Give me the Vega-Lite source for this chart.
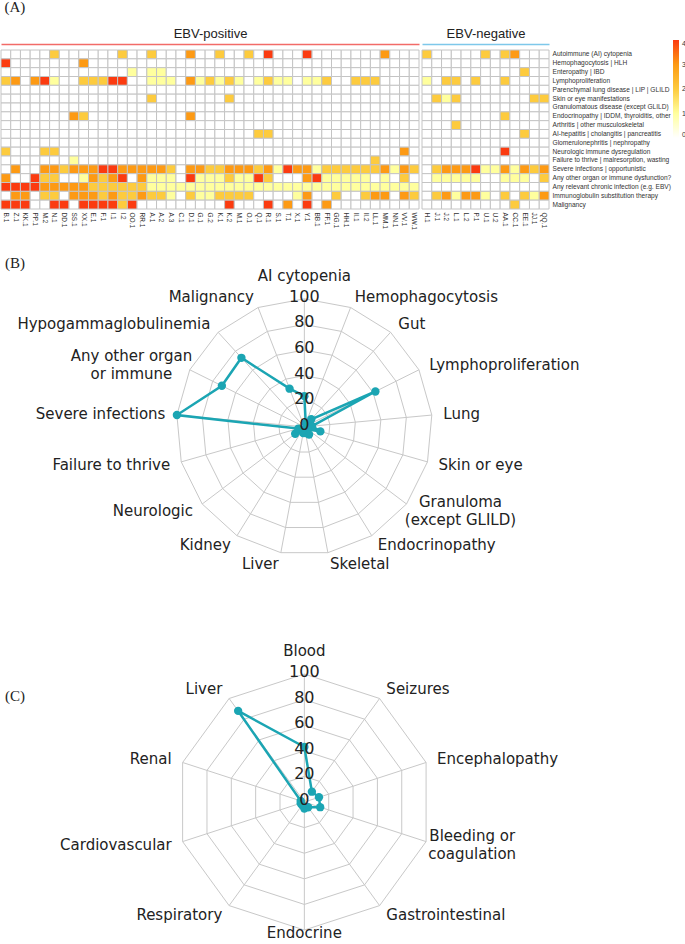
{
"$schema": "https://vega.github.io/schema/vega-lite/v6.json",
"padding": 0,
"spacing": 0,
"config": {"view": {"stroke": null}, "font": "Liberation Sans", "axis": {"grid": false}},
"datasets": {
"feats": [{"r":1,"f":"Autoimmune (AI) cytopenia"},{"r":2,"f":"Hemophagocytosis | HLH"},{"r":3,"f":"Enteropathy | IBD"},{"r":4,"f":"Lymphoproliferation"},{"r":5,"f":"Parenchymal lung disease | LIP | GLILD"},{"r":6,"f":"Skin or eye manifestations"},{"r":7,"f":"Granulomatous disease  (except GLILD)"},{"r":8,"f":"Endocrinopathy | IDDM, thyroiditis, other"},{"r":9,"f":"Arthritis | other musculoskeletal"},{"r":10,"f":"AI-hepatitis | cholangitis | pancreatitis"},{"r":11,"f":"Glomerulonephritis | nephropathy"},{"r":12,"f":"Neurologic immune dysregulation"},{"r":13,"f":"Failure to thrive | malresorption, wasting"},{"r":14,"f":"Severe infections | opportunistic"},{"r":15,"f":"Any other organ or immune dysfunction?"},{"r":16,"f":"Any relevant chronic infection (e.g. EBV)"},{"r":17,"f":"Immunoglobulin substitution therapy"},{"r":18,"f":"Malignancy"}],
"pos": [
{"p":"B.1","r":1,"v":0},{"p":"B.1","r":2,"v":4},{"p":"B.1","r":3,"v":0},{"p":"B.1","r":4,"v":2},{"p":"B.1","r":5,"v":0},{"p":"B.1","r":6,"v":0},{"p":"B.1","r":7,"v":0},{"p":"B.1","r":8,"v":0},{"p":"B.1","r":9,"v":0},{"p":"B.1","r":10,"v":0},{"p":"B.1","r":11,"v":0},{"p":"B.1","r":12,"v":2},{"p":"B.1","r":13,"v":0},{"p":"B.1","r":14,"v":0},{"p":"B.1","r":15,"v":3},{"p":"B.1","r":16,"v":4},{"p":"B.1","r":17,"v":0},{"p":"B.1","r":18,"v":4},
{"p":"Z.1","r":1,"v":0},{"p":"Z.1","r":2,"v":0},{"p":"Z.1","r":3,"v":0},{"p":"Z.1","r":4,"v":3},{"p":"Z.1","r":5,"v":0},{"p":"Z.1","r":6,"v":0},{"p":"Z.1","r":7,"v":0},{"p":"Z.1","r":8,"v":0},{"p":"Z.1","r":9,"v":0},{"p":"Z.1","r":10,"v":0},{"p":"Z.1","r":11,"v":0},{"p":"Z.1","r":12,"v":0},{"p":"Z.1","r":13,"v":0},{"p":"Z.1","r":14,"v":3},{"p":"Z.1","r":15,"v":0},{"p":"Z.1","r":16,"v":4},{"p":"Z.1","r":17,"v":3},{"p":"Z.1","r":18,"v":4},
{"p":"KK.1","r":1,"v":0},{"p":"KK.1","r":2,"v":0},{"p":"KK.1","r":3,"v":0},{"p":"KK.1","r":4,"v":0},{"p":"KK.1","r":5,"v":0},{"p":"KK.1","r":6,"v":0},{"p":"KK.1","r":7,"v":0},{"p":"KK.1","r":8,"v":0},{"p":"KK.1","r":9,"v":0},{"p":"KK.1","r":10,"v":0},{"p":"KK.1","r":11,"v":0},{"p":"KK.1","r":12,"v":0},{"p":"KK.1","r":13,"v":0},{"p":"KK.1","r":14,"v":0},{"p":"KK.1","r":15,"v":0},{"p":"KK.1","r":16,"v":4},{"p":"KK.1","r":17,"v":3},{"p":"KK.1","r":18,"v":4},
{"p":"PP.1","r":1,"v":0},{"p":"PP.1","r":2,"v":0},{"p":"PP.1","r":3,"v":0},{"p":"PP.1","r":4,"v":3},{"p":"PP.1","r":5,"v":0},{"p":"PP.1","r":6,"v":0},{"p":"PP.1","r":7,"v":0},{"p":"PP.1","r":8,"v":0},{"p":"PP.1","r":9,"v":0},{"p":"PP.1","r":10,"v":0},{"p":"PP.1","r":11,"v":0},{"p":"PP.1","r":12,"v":0},{"p":"PP.1","r":13,"v":0},{"p":"PP.1","r":14,"v":0},{"p":"PP.1","r":15,"v":4},{"p":"PP.1","r":16,"v":4},{"p":"PP.1","r":17,"v":0},{"p":"PP.1","r":18,"v":0},
{"p":"M.2","r":1,"v":0},{"p":"M.2","r":2,"v":0},{"p":"M.2","r":3,"v":0},{"p":"M.2","r":4,"v":4},{"p":"M.2","r":5,"v":0},{"p":"M.2","r":6,"v":0},{"p":"M.2","r":7,"v":0},{"p":"M.2","r":8,"v":0},{"p":"M.2","r":9,"v":0},{"p":"M.2","r":10,"v":0},{"p":"M.2","r":11,"v":0},{"p":"M.2","r":12,"v":2},{"p":"M.2","r":13,"v":0},{"p":"M.2","r":14,"v":3},{"p":"M.2","r":15,"v":2},{"p":"M.2","r":16,"v":3},{"p":"M.2","r":17,"v":2},{"p":"M.2","r":18,"v":0},
{"p":"N.1","r":1,"v":2},{"p":"N.1","r":2,"v":0},{"p":"N.1","r":3,"v":0},{"p":"N.1","r":4,"v":1},{"p":"N.1","r":5,"v":0},{"p":"N.1","r":6,"v":0},{"p":"N.1","r":7,"v":0},{"p":"N.1","r":8,"v":0},{"p":"N.1","r":9,"v":0},{"p":"N.1","r":10,"v":0},{"p":"N.1","r":11,"v":0},{"p":"N.1","r":12,"v":2},{"p":"N.1","r":13,"v":0},{"p":"N.1","r":14,"v":3},{"p":"N.1","r":15,"v":2},{"p":"N.1","r":16,"v":3},{"p":"N.1","r":17,"v":2},{"p":"N.1","r":18,"v":4},
{"p":"DD.1","r":1,"v":0},{"p":"DD.1","r":2,"v":0},{"p":"DD.1","r":3,"v":0},{"p":"DD.1","r":4,"v":0},{"p":"DD.1","r":5,"v":0},{"p":"DD.1","r":6,"v":0},{"p":"DD.1","r":7,"v":0},{"p":"DD.1","r":8,"v":0},{"p":"DD.1","r":9,"v":0},{"p":"DD.1","r":10,"v":0},{"p":"DD.1","r":11,"v":0},{"p":"DD.1","r":12,"v":0},{"p":"DD.1","r":13,"v":0},{"p":"DD.1","r":14,"v":2},{"p":"DD.1","r":15,"v":0},{"p":"DD.1","r":16,"v":3},{"p":"DD.1","r":17,"v":0},{"p":"DD.1","r":18,"v":4},
{"p":"SS.1","r":1,"v":0},{"p":"SS.1","r":2,"v":0},{"p":"SS.1","r":3,"v":0},{"p":"SS.1","r":4,"v":0},{"p":"SS.1","r":5,"v":0},{"p":"SS.1","r":6,"v":0},{"p":"SS.1","r":7,"v":0},{"p":"SS.1","r":8,"v":3},{"p":"SS.1","r":9,"v":0},{"p":"SS.1","r":10,"v":0},{"p":"SS.1","r":11,"v":0},{"p":"SS.1","r":12,"v":0},{"p":"SS.1","r":13,"v":1},{"p":"SS.1","r":14,"v":3},{"p":"SS.1","r":15,"v":0},{"p":"SS.1","r":16,"v":3},{"p":"SS.1","r":17,"v":3},{"p":"SS.1","r":18,"v":0},
{"p":"XX.1","r":1,"v":0},{"p":"XX.1","r":2,"v":3},{"p":"XX.1","r":3,"v":0},{"p":"XX.1","r":4,"v":2},{"p":"XX.1","r":5,"v":0},{"p":"XX.1","r":6,"v":0},{"p":"XX.1","r":7,"v":0},{"p":"XX.1","r":8,"v":2},{"p":"XX.1","r":9,"v":0},{"p":"XX.1","r":10,"v":0},{"p":"XX.1","r":11,"v":0},{"p":"XX.1","r":12,"v":0},{"p":"XX.1","r":13,"v":0},{"p":"XX.1","r":14,"v":3},{"p":"XX.1","r":15,"v":1},{"p":"XX.1","r":16,"v":3},{"p":"XX.1","r":17,"v":3},{"p":"XX.1","r":18,"v":4},
{"p":"E.1","r":1,"v":0},{"p":"E.1","r":2,"v":0},{"p":"E.1","r":3,"v":0},{"p":"E.1","r":4,"v":2},{"p":"E.1","r":5,"v":0},{"p":"E.1","r":6,"v":0},{"p":"E.1","r":7,"v":0},{"p":"E.1","r":8,"v":0},{"p":"E.1","r":9,"v":0},{"p":"E.1","r":10,"v":0},{"p":"E.1","r":11,"v":0},{"p":"E.1","r":12,"v":0},{"p":"E.1","r":13,"v":0},{"p":"E.1","r":14,"v":3},{"p":"E.1","r":15,"v":3},{"p":"E.1","r":16,"v":2},{"p":"E.1","r":17,"v":3},{"p":"E.1","r":18,"v":4},
{"p":"F.1","r":1,"v":0},{"p":"F.1","r":2,"v":0},{"p":"F.1","r":3,"v":0},{"p":"F.1","r":4,"v":2},{"p":"F.1","r":5,"v":0},{"p":"F.1","r":6,"v":0},{"p":"F.1","r":7,"v":0},{"p":"F.1","r":8,"v":0},{"p":"F.1","r":9,"v":0},{"p":"F.1","r":10,"v":0},{"p":"F.1","r":11,"v":0},{"p":"F.1","r":12,"v":0},{"p":"F.1","r":13,"v":0},{"p":"F.1","r":14,"v":4},{"p":"F.1","r":15,"v":2},{"p":"F.1","r":16,"v":2},{"p":"F.1","r":17,"v":2},{"p":"F.1","r":18,"v":4},
{"p":"I.1","r":1,"v":0},{"p":"I.1","r":2,"v":0},{"p":"I.1","r":3,"v":0},{"p":"I.1","r":4,"v":4},{"p":"I.1","r":5,"v":0},{"p":"I.1","r":6,"v":0},{"p":"I.1","r":7,"v":0},{"p":"I.1","r":8,"v":0},{"p":"I.1","r":9,"v":0},{"p":"I.1","r":10,"v":0},{"p":"I.1","r":11,"v":0},{"p":"I.1","r":12,"v":0},{"p":"I.1","r":13,"v":0},{"p":"I.1","r":14,"v":4},{"p":"I.1","r":15,"v":3},{"p":"I.1","r":16,"v":2},{"p":"I.1","r":17,"v":3},{"p":"I.1","r":18,"v":4},
{"p":"I.2","r":1,"v":2},{"p":"I.2","r":2,"v":0},{"p":"I.2","r":3,"v":0},{"p":"I.2","r":4,"v":4},{"p":"I.2","r":5,"v":0},{"p":"I.2","r":6,"v":0},{"p":"I.2","r":7,"v":0},{"p":"I.2","r":8,"v":0},{"p":"I.2","r":9,"v":0},{"p":"I.2","r":10,"v":0},{"p":"I.2","r":11,"v":0},{"p":"I.2","r":12,"v":0},{"p":"I.2","r":13,"v":0},{"p":"I.2","r":14,"v":3},{"p":"I.2","r":15,"v":4},{"p":"I.2","r":16,"v":2},{"p":"I.2","r":17,"v":2},{"p":"I.2","r":18,"v":2},
{"p":"OO.1","r":1,"v":0},{"p":"OO.1","r":2,"v":0},{"p":"OO.1","r":3,"v":1},{"p":"OO.1","r":4,"v":0},{"p":"OO.1","r":5,"v":0},{"p":"OO.1","r":6,"v":0},{"p":"OO.1","r":7,"v":0},{"p":"OO.1","r":8,"v":0},{"p":"OO.1","r":9,"v":0},{"p":"OO.1","r":10,"v":0},{"p":"OO.1","r":11,"v":0},{"p":"OO.1","r":12,"v":0},{"p":"OO.1","r":13,"v":0},{"p":"OO.1","r":14,"v":3},{"p":"OO.1","r":15,"v":0},{"p":"OO.1","r":16,"v":2},{"p":"OO.1","r":17,"v":2},{"p":"OO.1","r":18,"v":4},
{"p":"RR.1","r":1,"v":0},{"p":"RR.1","r":2,"v":0},{"p":"RR.1","r":3,"v":0},{"p":"RR.1","r":4,"v":0},{"p":"RR.1","r":5,"v":0},{"p":"RR.1","r":6,"v":0},{"p":"RR.1","r":7,"v":0},{"p":"RR.1","r":8,"v":0},{"p":"RR.1","r":9,"v":0},{"p":"RR.1","r":10,"v":0},{"p":"RR.1","r":11,"v":0},{"p":"RR.1","r":12,"v":0},{"p":"RR.1","r":13,"v":0},{"p":"RR.1","r":14,"v":3},{"p":"RR.1","r":15,"v":3},{"p":"RR.1","r":16,"v":2},{"p":"RR.1","r":17,"v":3},{"p":"RR.1","r":18,"v":0},
{"p":"A.1","r":1,"v":2},{"p":"A.1","r":2,"v":0},{"p":"A.1","r":3,"v":1},{"p":"A.1","r":4,"v":1},{"p":"A.1","r":5,"v":0},{"p":"A.1","r":6,"v":2},{"p":"A.1","r":7,"v":0},{"p":"A.1","r":8,"v":0},{"p":"A.1","r":9,"v":0},{"p":"A.1","r":10,"v":0},{"p":"A.1","r":11,"v":0},{"p":"A.1","r":12,"v":0},{"p":"A.1","r":13,"v":0},{"p":"A.1","r":14,"v":3},{"p":"A.1","r":15,"v":1},{"p":"A.1","r":16,"v":1},{"p":"A.1","r":17,"v":2},{"p":"A.1","r":18,"v":0},
{"p":"A.2","r":1,"v":0},{"p":"A.2","r":2,"v":0},{"p":"A.2","r":3,"v":1},{"p":"A.2","r":4,"v":1},{"p":"A.2","r":5,"v":0},{"p":"A.2","r":6,"v":0},{"p":"A.2","r":7,"v":0},{"p":"A.2","r":8,"v":0},{"p":"A.2","r":9,"v":0},{"p":"A.2","r":10,"v":0},{"p":"A.2","r":11,"v":0},{"p":"A.2","r":12,"v":0},{"p":"A.2","r":13,"v":0},{"p":"A.2","r":14,"v":3},{"p":"A.2","r":15,"v":1},{"p":"A.2","r":16,"v":1},{"p":"A.2","r":17,"v":2},{"p":"A.2","r":18,"v":0},
{"p":"A.3","r":1,"v":0},{"p":"A.3","r":2,"v":0},{"p":"A.3","r":3,"v":0},{"p":"A.3","r":4,"v":1},{"p":"A.3","r":5,"v":0},{"p":"A.3","r":6,"v":0},{"p":"A.3","r":7,"v":0},{"p":"A.3","r":8,"v":0},{"p":"A.3","r":9,"v":0},{"p":"A.3","r":10,"v":0},{"p":"A.3","r":11,"v":0},{"p":"A.3","r":12,"v":0},{"p":"A.3","r":13,"v":0},{"p":"A.3","r":14,"v":2},{"p":"A.3","r":15,"v":1},{"p":"A.3","r":16,"v":1},{"p":"A.3","r":17,"v":1},{"p":"A.3","r":18,"v":0},
{"p":"C.1","r":1,"v":0},{"p":"C.1","r":2,"v":0},{"p":"C.1","r":3,"v":0},{"p":"C.1","r":4,"v":0},{"p":"C.1","r":5,"v":0},{"p":"C.1","r":6,"v":0},{"p":"C.1","r":7,"v":0},{"p":"C.1","r":8,"v":0},{"p":"C.1","r":9,"v":0},{"p":"C.1","r":10,"v":0},{"p":"C.1","r":11,"v":0},{"p":"C.1","r":12,"v":0},{"p":"C.1","r":13,"v":0},{"p":"C.1","r":14,"v":0},{"p":"C.1","r":15,"v":0},{"p":"C.1","r":16,"v":1},{"p":"C.1","r":17,"v":0},{"p":"C.1","r":18,"v":0},
{"p":"D.1","r":1,"v":3},{"p":"D.1","r":2,"v":0},{"p":"D.1","r":3,"v":0},{"p":"D.1","r":4,"v":3},{"p":"D.1","r":5,"v":0},{"p":"D.1","r":6,"v":0},{"p":"D.1","r":7,"v":0},{"p":"D.1","r":8,"v":3},{"p":"D.1","r":9,"v":0},{"p":"D.1","r":10,"v":0},{"p":"D.1","r":11,"v":0},{"p":"D.1","r":12,"v":0},{"p":"D.1","r":13,"v":0},{"p":"D.1","r":14,"v":3},{"p":"D.1","r":15,"v":4},{"p":"D.1","r":16,"v":1},{"p":"D.1","r":17,"v":2},{"p":"D.1","r":18,"v":0},
{"p":"G.1","r":1,"v":0},{"p":"G.1","r":2,"v":0},{"p":"G.1","r":3,"v":0},{"p":"G.1","r":4,"v":1},{"p":"G.1","r":5,"v":0},{"p":"G.1","r":6,"v":0},{"p":"G.1","r":7,"v":0},{"p":"G.1","r":8,"v":0},{"p":"G.1","r":9,"v":0},{"p":"G.1","r":10,"v":0},{"p":"G.1","r":11,"v":0},{"p":"G.1","r":12,"v":0},{"p":"G.1","r":13,"v":0},{"p":"G.1","r":14,"v":3},{"p":"G.1","r":15,"v":1},{"p":"G.1","r":16,"v":1},{"p":"G.1","r":17,"v":1},{"p":"G.1","r":18,"v":0},
{"p":"G.2","r":1,"v":0},{"p":"G.2","r":2,"v":0},{"p":"G.2","r":3,"v":0},{"p":"G.2","r":4,"v":2},{"p":"G.2","r":5,"v":0},{"p":"G.2","r":6,"v":0},{"p":"G.2","r":7,"v":0},{"p":"G.2","r":8,"v":0},{"p":"G.2","r":9,"v":0},{"p":"G.2","r":10,"v":0},{"p":"G.2","r":11,"v":0},{"p":"G.2","r":12,"v":0},{"p":"G.2","r":13,"v":0},{"p":"G.2","r":14,"v":2},{"p":"G.2","r":15,"v":1},{"p":"G.2","r":16,"v":1},{"p":"G.2","r":17,"v":1},{"p":"G.2","r":18,"v":0},
{"p":"K.1","r":1,"v":2},{"p":"K.1","r":2,"v":0},{"p":"K.1","r":3,"v":0},{"p":"K.1","r":4,"v":1},{"p":"K.1","r":5,"v":0},{"p":"K.1","r":6,"v":0},{"p":"K.1","r":7,"v":0},{"p":"K.1","r":8,"v":0},{"p":"K.1","r":9,"v":0},{"p":"K.1","r":10,"v":0},{"p":"K.1","r":11,"v":0},{"p":"K.1","r":12,"v":0},{"p":"K.1","r":13,"v":0},{"p":"K.1","r":14,"v":2},{"p":"K.1","r":15,"v":1},{"p":"K.1","r":16,"v":1},{"p":"K.1","r":17,"v":2},{"p":"K.1","r":18,"v":0},
{"p":"K.2","r":1,"v":0},{"p":"K.2","r":2,"v":0},{"p":"K.2","r":3,"v":0},{"p":"K.2","r":4,"v":2},{"p":"K.2","r":5,"v":0},{"p":"K.2","r":6,"v":2},{"p":"K.2","r":7,"v":0},{"p":"K.2","r":8,"v":0},{"p":"K.2","r":9,"v":0},{"p":"K.2","r":10,"v":0},{"p":"K.2","r":11,"v":0},{"p":"K.2","r":12,"v":0},{"p":"K.2","r":13,"v":0},{"p":"K.2","r":14,"v":3},{"p":"K.2","r":15,"v":2},{"p":"K.2","r":16,"v":1},{"p":"K.2","r":17,"v":2},{"p":"K.2","r":18,"v":4},
{"p":"M.1","r":1,"v":0},{"p":"M.1","r":2,"v":0},{"p":"M.1","r":3,"v":0},{"p":"M.1","r":4,"v":1},{"p":"M.1","r":5,"v":0},{"p":"M.1","r":6,"v":0},{"p":"M.1","r":7,"v":0},{"p":"M.1","r":8,"v":0},{"p":"M.1","r":9,"v":0},{"p":"M.1","r":10,"v":0},{"p":"M.1","r":11,"v":0},{"p":"M.1","r":12,"v":0},{"p":"M.1","r":13,"v":0},{"p":"M.1","r":14,"v":3},{"p":"M.1","r":15,"v":1},{"p":"M.1","r":16,"v":1},{"p":"M.1","r":17,"v":2},{"p":"M.1","r":18,"v":0},
{"p":"O.1","r":1,"v":2},{"p":"O.1","r":2,"v":0},{"p":"O.1","r":3,"v":0},{"p":"O.1","r":4,"v":0},{"p":"O.1","r":5,"v":0},{"p":"O.1","r":6,"v":0},{"p":"O.1","r":7,"v":0},{"p":"O.1","r":8,"v":0},{"p":"O.1","r":9,"v":0},{"p":"O.1","r":10,"v":0},{"p":"O.1","r":11,"v":0},{"p":"O.1","r":12,"v":0},{"p":"O.1","r":13,"v":0},{"p":"O.1","r":14,"v":3},{"p":"O.1","r":15,"v":1},{"p":"O.1","r":16,"v":1},{"p":"O.1","r":17,"v":2},{"p":"O.1","r":18,"v":0},
{"p":"Q.1","r":1,"v":0},{"p":"Q.1","r":2,"v":0},{"p":"Q.1","r":3,"v":0},{"p":"Q.1","r":4,"v":1},{"p":"Q.1","r":5,"v":0},{"p":"Q.1","r":6,"v":0},{"p":"Q.1","r":7,"v":0},{"p":"Q.1","r":8,"v":0},{"p":"Q.1","r":9,"v":0},{"p":"Q.1","r":10,"v":2},{"p":"Q.1","r":11,"v":0},{"p":"Q.1","r":12,"v":0},{"p":"Q.1","r":13,"v":0},{"p":"Q.1","r":14,"v":2},{"p":"Q.1","r":15,"v":4},{"p":"Q.1","r":16,"v":1},{"p":"Q.1","r":17,"v":0},{"p":"Q.1","r":18,"v":0},
{"p":"R.1","r":1,"v":4},{"p":"R.1","r":2,"v":0},{"p":"R.1","r":3,"v":0},{"p":"R.1","r":4,"v":2},{"p":"R.1","r":5,"v":0},{"p":"R.1","r":6,"v":0},{"p":"R.1","r":7,"v":0},{"p":"R.1","r":8,"v":0},{"p":"R.1","r":9,"v":0},{"p":"R.1","r":10,"v":2},{"p":"R.1","r":11,"v":0},{"p":"R.1","r":12,"v":0},{"p":"R.1","r":13,"v":0},{"p":"R.1","r":14,"v":3},{"p":"R.1","r":15,"v":2},{"p":"R.1","r":16,"v":1},{"p":"R.1","r":17,"v":0},{"p":"R.1","r":18,"v":4},
{"p":"S.1","r":1,"v":0},{"p":"S.1","r":2,"v":0},{"p":"S.1","r":3,"v":0},{"p":"S.1","r":4,"v":1},{"p":"S.1","r":5,"v":0},{"p":"S.1","r":6,"v":0},{"p":"S.1","r":7,"v":0},{"p":"S.1","r":8,"v":0},{"p":"S.1","r":9,"v":0},{"p":"S.1","r":10,"v":0},{"p":"S.1","r":11,"v":0},{"p":"S.1","r":12,"v":0},{"p":"S.1","r":13,"v":0},{"p":"S.1","r":14,"v":1},{"p":"S.1","r":15,"v":0},{"p":"S.1","r":16,"v":1},{"p":"S.1","r":17,"v":0},{"p":"S.1","r":18,"v":0},
{"p":"T.1","r":1,"v":0},{"p":"T.1","r":2,"v":0},{"p":"T.1","r":3,"v":0},{"p":"T.1","r":4,"v":1},{"p":"T.1","r":5,"v":0},{"p":"T.1","r":6,"v":0},{"p":"T.1","r":7,"v":0},{"p":"T.1","r":8,"v":0},{"p":"T.1","r":9,"v":0},{"p":"T.1","r":10,"v":0},{"p":"T.1","r":11,"v":0},{"p":"T.1","r":12,"v":0},{"p":"T.1","r":13,"v":0},{"p":"T.1","r":14,"v":4},{"p":"T.1","r":15,"v":0},{"p":"T.1","r":16,"v":1},{"p":"T.1","r":17,"v":0},{"p":"T.1","r":18,"v":3},
{"p":"X.1","r":1,"v":0},{"p":"X.1","r":2,"v":0},{"p":"X.1","r":3,"v":0},{"p":"X.1","r":4,"v":0},{"p":"X.1","r":5,"v":0},{"p":"X.1","r":6,"v":0},{"p":"X.1","r":7,"v":0},{"p":"X.1","r":8,"v":0},{"p":"X.1","r":9,"v":0},{"p":"X.1","r":10,"v":0},{"p":"X.1","r":11,"v":0},{"p":"X.1","r":12,"v":0},{"p":"X.1","r":13,"v":0},{"p":"X.1","r":14,"v":3},{"p":"X.1","r":15,"v":0},{"p":"X.1","r":16,"v":1},{"p":"X.1","r":17,"v":1},{"p":"X.1","r":18,"v":0},
{"p":"Y.1","r":1,"v":4},{"p":"Y.1","r":2,"v":0},{"p":"Y.1","r":3,"v":0},{"p":"Y.1","r":4,"v":1},{"p":"Y.1","r":5,"v":0},{"p":"Y.1","r":6,"v":0},{"p":"Y.1","r":7,"v":0},{"p":"Y.1","r":8,"v":0},{"p":"Y.1","r":9,"v":0},{"p":"Y.1","r":10,"v":0},{"p":"Y.1","r":11,"v":0},{"p":"Y.1","r":12,"v":0},{"p":"Y.1","r":13,"v":0},{"p":"Y.1","r":14,"v":3},{"p":"Y.1","r":15,"v":3},{"p":"Y.1","r":16,"v":1},{"p":"Y.1","r":17,"v":3},{"p":"Y.1","r":18,"v":4},
{"p":"BB.1","r":1,"v":0},{"p":"BB.1","r":2,"v":0},{"p":"BB.1","r":3,"v":0},{"p":"BB.1","r":4,"v":1},{"p":"BB.1","r":5,"v":0},{"p":"BB.1","r":6,"v":0},{"p":"BB.1","r":7,"v":0},{"p":"BB.1","r":8,"v":0},{"p":"BB.1","r":9,"v":0},{"p":"BB.1","r":10,"v":0},{"p":"BB.1","r":11,"v":0},{"p":"BB.1","r":12,"v":0},{"p":"BB.1","r":13,"v":0},{"p":"BB.1","r":14,"v":1},{"p":"BB.1","r":15,"v":4},{"p":"BB.1","r":16,"v":1},{"p":"BB.1","r":17,"v":0},{"p":"BB.1","r":18,"v":0},
{"p":"FF.1","r":1,"v":0},{"p":"FF.1","r":2,"v":0},{"p":"FF.1","r":3,"v":0},{"p":"FF.1","r":4,"v":2},{"p":"FF.1","r":5,"v":0},{"p":"FF.1","r":6,"v":0},{"p":"FF.1","r":7,"v":0},{"p":"FF.1","r":8,"v":0},{"p":"FF.1","r":9,"v":0},{"p":"FF.1","r":10,"v":0},{"p":"FF.1","r":11,"v":0},{"p":"FF.1","r":12,"v":0},{"p":"FF.1","r":13,"v":0},{"p":"FF.1","r":14,"v":2},{"p":"FF.1","r":15,"v":1},{"p":"FF.1","r":16,"v":1},{"p":"FF.1","r":17,"v":0},{"p":"FF.1","r":18,"v":3},
{"p":"GG.1","r":1,"v":0},{"p":"GG.1","r":2,"v":0},{"p":"GG.1","r":3,"v":0},{"p":"GG.1","r":4,"v":0},{"p":"GG.1","r":5,"v":0},{"p":"GG.1","r":6,"v":0},{"p":"GG.1","r":7,"v":0},{"p":"GG.1","r":8,"v":0},{"p":"GG.1","r":9,"v":0},{"p":"GG.1","r":10,"v":0},{"p":"GG.1","r":11,"v":0},{"p":"GG.1","r":12,"v":0},{"p":"GG.1","r":13,"v":0},{"p":"GG.1","r":14,"v":2},{"p":"GG.1","r":15,"v":1},{"p":"GG.1","r":16,"v":1},{"p":"GG.1","r":17,"v":2},{"p":"GG.1","r":18,"v":0},
{"p":"HH.1","r":1,"v":0},{"p":"HH.1","r":2,"v":0},{"p":"HH.1","r":3,"v":0},{"p":"HH.1","r":4,"v":0},{"p":"HH.1","r":5,"v":0},{"p":"HH.1","r":6,"v":0},{"p":"HH.1","r":7,"v":0},{"p":"HH.1","r":8,"v":0},{"p":"HH.1","r":9,"v":0},{"p":"HH.1","r":10,"v":0},{"p":"HH.1","r":11,"v":0},{"p":"HH.1","r":12,"v":0},{"p":"HH.1","r":13,"v":0},{"p":"HH.1","r":14,"v":2},{"p":"HH.1","r":15,"v":1},{"p":"HH.1","r":16,"v":1},{"p":"HH.1","r":17,"v":0},{"p":"HH.1","r":18,"v":0},
{"p":"II.1","r":1,"v":0},{"p":"II.1","r":2,"v":0},{"p":"II.1","r":3,"v":0},{"p":"II.1","r":4,"v":2},{"p":"II.1","r":5,"v":0},{"p":"II.1","r":6,"v":0},{"p":"II.1","r":7,"v":0},{"p":"II.1","r":8,"v":0},{"p":"II.1","r":9,"v":0},{"p":"II.1","r":10,"v":0},{"p":"II.1","r":11,"v":0},{"p":"II.1","r":12,"v":0},{"p":"II.1","r":13,"v":0},{"p":"II.1","r":14,"v":2},{"p":"II.1","r":15,"v":1},{"p":"II.1","r":16,"v":1},{"p":"II.1","r":17,"v":0},{"p":"II.1","r":18,"v":0},
{"p":"II.2","r":1,"v":0},{"p":"II.2","r":2,"v":0},{"p":"II.2","r":3,"v":0},{"p":"II.2","r":4,"v":2},{"p":"II.2","r":5,"v":0},{"p":"II.2","r":6,"v":0},{"p":"II.2","r":7,"v":0},{"p":"II.2","r":8,"v":0},{"p":"II.2","r":9,"v":0},{"p":"II.2","r":10,"v":0},{"p":"II.2","r":11,"v":0},{"p":"II.2","r":12,"v":0},{"p":"II.2","r":13,"v":0},{"p":"II.2","r":14,"v":2},{"p":"II.2","r":15,"v":1},{"p":"II.2","r":16,"v":1},{"p":"II.2","r":17,"v":2},{"p":"II.2","r":18,"v":0},
{"p":"LL.1","r":1,"v":0},{"p":"LL.1","r":2,"v":0},{"p":"LL.1","r":3,"v":0},{"p":"LL.1","r":4,"v":2},{"p":"LL.1","r":5,"v":0},{"p":"LL.1","r":6,"v":0},{"p":"LL.1","r":7,"v":0},{"p":"LL.1","r":8,"v":0},{"p":"LL.1","r":9,"v":0},{"p":"LL.1","r":10,"v":0},{"p":"LL.1","r":11,"v":0},{"p":"LL.1","r":12,"v":0},{"p":"LL.1","r":13,"v":2},{"p":"LL.1","r":14,"v":2},{"p":"LL.1","r":15,"v":0},{"p":"LL.1","r":16,"v":1},{"p":"LL.1","r":17,"v":3},{"p":"LL.1","r":18,"v":0},
{"p":"MM.1","r":1,"v":3},{"p":"MM.1","r":2,"v":0},{"p":"MM.1","r":3,"v":0},{"p":"MM.1","r":4,"v":0},{"p":"MM.1","r":5,"v":0},{"p":"MM.1","r":6,"v":0},{"p":"MM.1","r":7,"v":0},{"p":"MM.1","r":8,"v":0},{"p":"MM.1","r":9,"v":0},{"p":"MM.1","r":10,"v":0},{"p":"MM.1","r":11,"v":0},{"p":"MM.1","r":12,"v":0},{"p":"MM.1","r":13,"v":0},{"p":"MM.1","r":14,"v":3},{"p":"MM.1","r":15,"v":1},{"p":"MM.1","r":16,"v":1},{"p":"MM.1","r":17,"v":3},{"p":"MM.1","r":18,"v":0},
{"p":"NN.1","r":1,"v":0},{"p":"NN.1","r":2,"v":0},{"p":"NN.1","r":3,"v":0},{"p":"NN.1","r":4,"v":0},{"p":"NN.1","r":5,"v":0},{"p":"NN.1","r":6,"v":0},{"p":"NN.1","r":7,"v":0},{"p":"NN.1","r":8,"v":0},{"p":"NN.1","r":9,"v":0},{"p":"NN.1","r":10,"v":0},{"p":"NN.1","r":11,"v":0},{"p":"NN.1","r":12,"v":0},{"p":"NN.1","r":13,"v":0},{"p":"NN.1","r":14,"v":1},{"p":"NN.1","r":15,"v":0},{"p":"NN.1","r":16,"v":1},{"p":"NN.1","r":17,"v":0},{"p":"NN.1","r":18,"v":0},
{"p":"VV.1","r":1,"v":0},{"p":"VV.1","r":2,"v":0},{"p":"VV.1","r":3,"v":0},{"p":"VV.1","r":4,"v":0},{"p":"VV.1","r":5,"v":0},{"p":"VV.1","r":6,"v":0},{"p":"VV.1","r":7,"v":0},{"p":"VV.1","r":8,"v":0},{"p":"VV.1","r":9,"v":0},{"p":"VV.1","r":10,"v":0},{"p":"VV.1","r":11,"v":0},{"p":"VV.1","r":12,"v":3},{"p":"VV.1","r":13,"v":0},{"p":"VV.1","r":14,"v":3},{"p":"VV.1","r":15,"v":2},{"p":"VV.1","r":16,"v":1},{"p":"VV.1","r":17,"v":3},{"p":"VV.1","r":18,"v":0},
{"p":"WW.1","r":1,"v":0},{"p":"WW.1","r":2,"v":0},{"p":"WW.1","r":3,"v":0},{"p":"WW.1","r":4,"v":0},{"p":"WW.1","r":5,"v":0},{"p":"WW.1","r":6,"v":0},{"p":"WW.1","r":7,"v":0},{"p":"WW.1","r":8,"v":0},{"p":"WW.1","r":9,"v":0},{"p":"WW.1","r":10,"v":0},{"p":"WW.1","r":11,"v":0},{"p":"WW.1","r":12,"v":0},{"p":"WW.1","r":13,"v":0},{"p":"WW.1","r":14,"v":2},{"p":"WW.1","r":15,"v":0},{"p":"WW.1","r":16,"v":1},{"p":"WW.1","r":17,"v":2},{"p":"WW.1","r":18,"v":0}
],
"neg": [
{"p":"H.1","r":1,"v":2},{"p":"H.1","r":2,"v":0},{"p":"H.1","r":3,"v":0},{"p":"H.1","r":4,"v":1},{"p":"H.1","r":5,"v":0},{"p":"H.1","r":6,"v":0},{"p":"H.1","r":7,"v":0},{"p":"H.1","r":8,"v":0},{"p":"H.1","r":9,"v":0},{"p":"H.1","r":10,"v":0},{"p":"H.1","r":11,"v":0},{"p":"H.1","r":12,"v":0},{"p":"H.1","r":13,"v":0},{"p":"H.1","r":14,"v":0},{"p":"H.1","r":15,"v":0},{"p":"H.1","r":16,"v":0},{"p":"H.1","r":17,"v":0},{"p":"H.1","r":18,"v":0},
{"p":"J.1","r":1,"v":0},{"p":"J.1","r":2,"v":0},{"p":"J.1","r":3,"v":0},{"p":"J.1","r":4,"v":0},{"p":"J.1","r":5,"v":0},{"p":"J.1","r":6,"v":2},{"p":"J.1","r":7,"v":0},{"p":"J.1","r":8,"v":0},{"p":"J.1","r":9,"v":0},{"p":"J.1","r":10,"v":0},{"p":"J.1","r":11,"v":0},{"p":"J.1","r":12,"v":0},{"p":"J.1","r":13,"v":0},{"p":"J.1","r":14,"v":2},{"p":"J.1","r":15,"v":1},{"p":"J.1","r":16,"v":0},{"p":"J.1","r":17,"v":2},{"p":"J.1","r":18,"v":0},
{"p":"J.2","r":1,"v":0},{"p":"J.2","r":2,"v":0},{"p":"J.2","r":3,"v":0},{"p":"J.2","r":4,"v":2},{"p":"J.2","r":5,"v":0},{"p":"J.2","r":6,"v":1},{"p":"J.2","r":7,"v":0},{"p":"J.2","r":8,"v":0},{"p":"J.2","r":9,"v":0},{"p":"J.2","r":10,"v":0},{"p":"J.2","r":11,"v":0},{"p":"J.2","r":12,"v":0},{"p":"J.2","r":13,"v":0},{"p":"J.2","r":14,"v":3},{"p":"J.2","r":15,"v":1},{"p":"J.2","r":16,"v":0},{"p":"J.2","r":17,"v":3},{"p":"J.2","r":18,"v":0},
{"p":"L.1","r":1,"v":0},{"p":"L.1","r":2,"v":0},{"p":"L.1","r":3,"v":0},{"p":"L.1","r":4,"v":2},{"p":"L.1","r":5,"v":0},{"p":"L.1","r":6,"v":2},{"p":"L.1","r":7,"v":0},{"p":"L.1","r":8,"v":0},{"p":"L.1","r":9,"v":2},{"p":"L.1","r":10,"v":0},{"p":"L.1","r":11,"v":0},{"p":"L.1","r":12,"v":0},{"p":"L.1","r":13,"v":0},{"p":"L.1","r":14,"v":3},{"p":"L.1","r":15,"v":1},{"p":"L.1","r":16,"v":0},{"p":"L.1","r":17,"v":1},{"p":"L.1","r":18,"v":0},
{"p":"L.2","r":1,"v":0},{"p":"L.2","r":2,"v":0},{"p":"L.2","r":3,"v":0},{"p":"L.2","r":4,"v":0},{"p":"L.2","r":5,"v":0},{"p":"L.2","r":6,"v":0},{"p":"L.2","r":7,"v":0},{"p":"L.2","r":8,"v":0},{"p":"L.2","r":9,"v":0},{"p":"L.2","r":10,"v":0},{"p":"L.2","r":11,"v":0},{"p":"L.2","r":12,"v":0},{"p":"L.2","r":13,"v":0},{"p":"L.2","r":14,"v":3},{"p":"L.2","r":15,"v":1},{"p":"L.2","r":16,"v":0},{"p":"L.2","r":17,"v":3},{"p":"L.2","r":18,"v":0},
{"p":"P.1","r":1,"v":0},{"p":"P.1","r":2,"v":0},{"p":"P.1","r":3,"v":0},{"p":"P.1","r":4,"v":2},{"p":"P.1","r":5,"v":0},{"p":"P.1","r":6,"v":0},{"p":"P.1","r":7,"v":0},{"p":"P.1","r":8,"v":0},{"p":"P.1","r":9,"v":0},{"p":"P.1","r":10,"v":0},{"p":"P.1","r":11,"v":0},{"p":"P.1","r":12,"v":0},{"p":"P.1","r":13,"v":0},{"p":"P.1","r":14,"v":4},{"p":"P.1","r":15,"v":1},{"p":"P.1","r":16,"v":0},{"p":"P.1","r":17,"v":3},{"p":"P.1","r":18,"v":0},
{"p":"U.1","r":1,"v":2},{"p":"U.1","r":2,"v":0},{"p":"U.1","r":3,"v":0},{"p":"U.1","r":4,"v":0},{"p":"U.1","r":5,"v":0},{"p":"U.1","r":6,"v":0},{"p":"U.1","r":7,"v":0},{"p":"U.1","r":8,"v":0},{"p":"U.1","r":9,"v":0},{"p":"U.1","r":10,"v":0},{"p":"U.1","r":11,"v":0},{"p":"U.1","r":12,"v":0},{"p":"U.1","r":13,"v":0},{"p":"U.1","r":14,"v":1},{"p":"U.1","r":15,"v":0},{"p":"U.1","r":16,"v":0},{"p":"U.1","r":17,"v":1},{"p":"U.1","r":18,"v":0},
{"p":"U.2","r":1,"v":0},{"p":"U.2","r":2,"v":0},{"p":"U.2","r":3,"v":0},{"p":"U.2","r":4,"v":0},{"p":"U.2","r":5,"v":0},{"p":"U.2","r":6,"v":0},{"p":"U.2","r":7,"v":0},{"p":"U.2","r":8,"v":0},{"p":"U.2","r":9,"v":0},{"p":"U.2","r":10,"v":0},{"p":"U.2","r":11,"v":0},{"p":"U.2","r":12,"v":0},{"p":"U.2","r":13,"v":0},{"p":"U.2","r":14,"v":1},{"p":"U.2","r":15,"v":0},{"p":"U.2","r":16,"v":0},{"p":"U.2","r":17,"v":0},{"p":"U.2","r":18,"v":0},
{"p":"AA.1","r":1,"v":2},{"p":"AA.1","r":2,"v":0},{"p":"AA.1","r":3,"v":0},{"p":"AA.1","r":4,"v":2},{"p":"AA.1","r":5,"v":0},{"p":"AA.1","r":6,"v":0},{"p":"AA.1","r":7,"v":0},{"p":"AA.1","r":8,"v":2},{"p":"AA.1","r":9,"v":0},{"p":"AA.1","r":10,"v":0},{"p":"AA.1","r":11,"v":0},{"p":"AA.1","r":12,"v":4},{"p":"AA.1","r":13,"v":0},{"p":"AA.1","r":14,"v":3},{"p":"AA.1","r":15,"v":1},{"p":"AA.1","r":16,"v":0},{"p":"AA.1","r":17,"v":2},{"p":"AA.1","r":18,"v":0},
{"p":"CC.1","r":1,"v":3},{"p":"CC.1","r":2,"v":0},{"p":"CC.1","r":3,"v":0},{"p":"CC.1","r":4,"v":0},{"p":"CC.1","r":5,"v":0},{"p":"CC.1","r":6,"v":0},{"p":"CC.1","r":7,"v":0},{"p":"CC.1","r":8,"v":0},{"p":"CC.1","r":9,"v":0},{"p":"CC.1","r":10,"v":0},{"p":"CC.1","r":11,"v":0},{"p":"CC.1","r":12,"v":0},{"p":"CC.1","r":13,"v":0},{"p":"CC.1","r":14,"v":1},{"p":"CC.1","r":15,"v":1},{"p":"CC.1","r":16,"v":0},{"p":"CC.1","r":17,"v":0},{"p":"CC.1","r":18,"v":2},
{"p":"EE.1","r":1,"v":0},{"p":"EE.1","r":2,"v":0},{"p":"EE.1","r":3,"v":2},{"p":"EE.1","r":4,"v":0},{"p":"EE.1","r":5,"v":0},{"p":"EE.1","r":6,"v":0},{"p":"EE.1","r":7,"v":0},{"p":"EE.1","r":8,"v":0},{"p":"EE.1","r":9,"v":0},{"p":"EE.1","r":10,"v":2},{"p":"EE.1","r":11,"v":0},{"p":"EE.1","r":12,"v":0},{"p":"EE.1","r":13,"v":0},{"p":"EE.1","r":14,"v":3},{"p":"EE.1","r":15,"v":1},{"p":"EE.1","r":16,"v":0},{"p":"EE.1","r":17,"v":2},{"p":"EE.1","r":18,"v":0},
{"p":"JJ.1","r":1,"v":0},{"p":"JJ.1","r":2,"v":0},{"p":"JJ.1","r":3,"v":0},{"p":"JJ.1","r":4,"v":0},{"p":"JJ.1","r":5,"v":0},{"p":"JJ.1","r":6,"v":2},{"p":"JJ.1","r":7,"v":0},{"p":"JJ.1","r":8,"v":0},{"p":"JJ.1","r":9,"v":0},{"p":"JJ.1","r":10,"v":0},{"p":"JJ.1","r":11,"v":0},{"p":"JJ.1","r":12,"v":0},{"p":"JJ.1","r":13,"v":0},{"p":"JJ.1","r":14,"v":2},{"p":"JJ.1","r":15,"v":0},{"p":"JJ.1","r":16,"v":0},{"p":"JJ.1","r":17,"v":1},{"p":"JJ.1","r":18,"v":0},
{"p":"QQ.1","r":1,"v":0},{"p":"QQ.1","r":2,"v":0},{"p":"QQ.1","r":3,"v":0},{"p":"QQ.1","r":4,"v":0},{"p":"QQ.1","r":5,"v":0},{"p":"QQ.1","r":6,"v":2},{"p":"QQ.1","r":7,"v":0},{"p":"QQ.1","r":8,"v":0},{"p":"QQ.1","r":9,"v":0},{"p":"QQ.1","r":10,"v":0},{"p":"QQ.1","r":11,"v":0},{"p":"QQ.1","r":12,"v":0},{"p":"QQ.1","r":13,"v":0},{"p":"QQ.1","r":14,"v":3},{"p":"QQ.1","r":15,"v":2},{"p":"QQ.1","r":16,"v":0},{"p":"QQ.1","r":17,"v":3},{"p":"QQ.1","r":18,"v":0}
],
"radarB": [{"lab":"AI cytopenia","i":0,"v":24},{"lab":"Hemophagocytosis","i":1,"v":3},{"lab":"Gut","i":2,"v":8},{"lab":"Lymphoproliferation","i":3,"v":62},{"lab":"Lung","i":4,"v":6},{"lab":"Skin or eye","i":5,"v":13},{"lab":"Granuloma\n(except GLILD)","i":6,"v":3},{"lab":"Endocrinopathy","i":7,"v":7},{"lab":"Skeletal","i":8,"v":5},{"lab":"Liver","i":9,"v":5},{"lab":"Kidney","i":10,"v":3},{"lab":"Neurologic","i":11,"v":9},{"lab":"Failure to thrive","i":12,"v":5},{"lab":"Severe infections","i":13,"v":100},{"lab":"Any other organ\nor immune","i":14,"v":72},{"lab":"Hypogammaglobulinemia","i":15,"v":73},{"lab":"Malignancy","i":16,"v":32}],
"radarC": [{"lab":"Blood","i":0,"v":43},{"lab":"Seizures","i":1,"v":10},{"lab":"Encephalopathy","i":2,"v":12},{"lab":"Bleeding or\ncoagulation","i":3,"v":13},{"lab":"Gastrointestinal","i":4,"v":5},{"lab":"Endocrine","i":5,"v":5},{"lab":"Respiratory","i":6,"v":3},{"lab":"Cardiovascular","i":7,"v":3},{"lab":"Renal","i":8,"v":3},{"lab":"Liver","i":9,"v":88}],
"rings": [{"r":0},{"r":20},{"r":40},{"r":60},{"r":80},{"r":100}],
"gridB": [{"i":0,"r":20},{"i":1,"r":20},{"i":2,"r":20},{"i":3,"r":20},{"i":4,"r":20},{"i":5,"r":20},{"i":6,"r":20},{"i":7,"r":20},{"i":8,"r":20},{"i":9,"r":20},{"i":10,"r":20},{"i":11,"r":20},{"i":12,"r":20},{"i":13,"r":20},{"i":14,"r":20},{"i":15,"r":20},{"i":16,"r":20},
{"i":0,"r":40},{"i":1,"r":40},{"i":2,"r":40},{"i":3,"r":40},{"i":4,"r":40},{"i":5,"r":40},{"i":6,"r":40},{"i":7,"r":40},{"i":8,"r":40},{"i":9,"r":40},{"i":10,"r":40},{"i":11,"r":40},{"i":12,"r":40},{"i":13,"r":40},{"i":14,"r":40},{"i":15,"r":40},{"i":16,"r":40},
{"i":0,"r":60},{"i":1,"r":60},{"i":2,"r":60},{"i":3,"r":60},{"i":4,"r":60},{"i":5,"r":60},{"i":6,"r":60},{"i":7,"r":60},{"i":8,"r":60},{"i":9,"r":60},{"i":10,"r":60},{"i":11,"r":60},{"i":12,"r":60},{"i":13,"r":60},{"i":14,"r":60},{"i":15,"r":60},{"i":16,"r":60},
{"i":0,"r":80},{"i":1,"r":80},{"i":2,"r":80},{"i":3,"r":80},{"i":4,"r":80},{"i":5,"r":80},{"i":6,"r":80},{"i":7,"r":80},{"i":8,"r":80},{"i":9,"r":80},{"i":10,"r":80},{"i":11,"r":80},{"i":12,"r":80},{"i":13,"r":80},{"i":14,"r":80},{"i":15,"r":80},{"i":16,"r":80},
{"i":0,"r":100},{"i":1,"r":100},{"i":2,"r":100},{"i":3,"r":100},{"i":4,"r":100},{"i":5,"r":100},{"i":6,"r":100},{"i":7,"r":100},{"i":8,"r":100},{"i":9,"r":100},{"i":10,"r":100},{"i":11,"r":100},{"i":12,"r":100},{"i":13,"r":100},{"i":14,"r":100},{"i":15,"r":100},{"i":16,"r":100}],
"gridC": [{"i":0,"r":20},{"i":1,"r":20},{"i":2,"r":20},{"i":3,"r":20},{"i":4,"r":20},{"i":5,"r":20},{"i":6,"r":20},{"i":7,"r":20},{"i":8,"r":20},{"i":9,"r":20},
{"i":0,"r":40},{"i":1,"r":40},{"i":2,"r":40},{"i":3,"r":40},{"i":4,"r":40},{"i":5,"r":40},{"i":6,"r":40},{"i":7,"r":40},{"i":8,"r":40},{"i":9,"r":40},
{"i":0,"r":60},{"i":1,"r":60},{"i":2,"r":60},{"i":3,"r":60},{"i":4,"r":60},{"i":5,"r":60},{"i":6,"r":60},{"i":7,"r":60},{"i":8,"r":60},{"i":9,"r":60},
{"i":0,"r":80},{"i":1,"r":80},{"i":2,"r":80},{"i":3,"r":80},{"i":4,"r":80},{"i":5,"r":80},{"i":6,"r":80},{"i":7,"r":80},{"i":8,"r":80},{"i":9,"r":80},
{"i":0,"r":100},{"i":1,"r":100},{"i":2,"r":100},{"i":3,"r":100},{"i":4,"r":100},{"i":5,"r":100},{"i":6,"r":100},{"i":7,"r":100},{"i":8,"r":100},{"i":9,"r":100}]
},
"vconcat": [
{
"hconcat": [
{
"width": 418, "height": 159,
"title": {"text": "(A)", "anchor": "start", "font": "Liberation Serif", "fontSize": 15, "fontWeight": "normal", "color": "#222", "offset": 12, "dx": 4},
"data": {"name": "pos"},
"transform": [{"lookup": "r", "from": {"data": {"name": "feats"}, "key": "r", "fields": ["f"]}}],
"encoding": {"y": {"field": "f", "type": "nominal", "sort": {"field": "r", "op": "min"}, "scale": {"paddingInner": 0, "paddingOuter": 0}, "axis": null}},
"layer": [
{"mark": {"type": "rect", "stroke": "#c4c4c4", "strokeWidth": 1, "opacity": 1},
 "encoding": {
  "x": {"field": "p", "type": "nominal", "sort": null, "scale": {"paddingInner": 0, "paddingOuter": 0}, "axis": {"orient": "bottom", "title": null, "ticks": false, "domain": false, "labelAngle": 90, "labelFontSize": 6.5, "labelColor": "#333", "labelPadding": 3}},
  "color": {"field": "v", "type": "quantitative", "scale": {"type": "linear", "domain": [0, 1, 2, 3, 4], "range": ["#ffffff", "#ffff9e", "#fdcb3e", "#fd9a14", "#fb3b10"], "interpolate": "rgb"},
   "legend": {"orient": "none", "legendX": 672, "legendY": -10, "direction": "vertical", "gradientLength": 98, "gradientThickness": 6, "gradientStrokeWidth": 0, "title": null, "values": [0, 1, 2, 3, 4], "labelFontSize": 7, "labelColor": "#333", "labelOffset": 3}}
 }},
{"mark": {"type": "rect", "opacity": 0},
 "encoding": {"x": {"field": "p", "type": "nominal", "sort": null, "axis": {"orient": "top", "labels": false, "ticks": false, "domain": true, "domainColor": "#f26b68", "domainWidth": 1.5, "offset": 6, "title": "EBV-positive", "titleFontSize": 13, "titleFontWeight": "normal", "titleColor": "#222", "titlePadding": 4}}}}
],
"resolve": {"axis": {"x": "independent"}}
},
{
"width": 127, "height": 159,
"data": {"name": "neg"},
"transform": [{"lookup": "r", "from": {"data": {"name": "feats"}, "key": "r", "fields": ["f"]}}],
"encoding": {"y": {"field": "f", "type": "nominal", "sort": {"field": "r", "op": "min"}, "scale": {"paddingInner": 0, "paddingOuter": 0}, "axis": {"orient": "right", "title": null, "ticks": false, "domain": false, "labelFontSize": 6.6, "labelColor": "#333", "labelPadding": 3, "labelLimit": 300}}},
"layer": [
{"mark": {"type": "rect", "stroke": "#c4c4c4", "strokeWidth": 1, "opacity": 1},
 "encoding": {
  "x": {"field": "p", "type": "nominal", "sort": null, "scale": {"paddingInner": 0, "paddingOuter": 0}, "axis": {"orient": "bottom", "title": null, "ticks": false, "domain": false, "labelAngle": 90, "labelFontSize": 6.5, "labelColor": "#333", "labelPadding": 3}},
  "color": {"field": "v", "type": "quantitative", "scale": {"type": "linear", "domain": [0, 1, 2, 3, 4], "range": ["#ffffff", "#ffff9e", "#fdcb3e", "#fd9a14", "#fb3b10"], "interpolate": "rgb"},
   "legend": {"orient": "none", "legendX": 672, "legendY": -10, "direction": "vertical", "gradientLength": 98, "gradientThickness": 6, "gradientStrokeWidth": 0, "title": null, "values": [0, 1, 2, 3, 4], "labelFontSize": 7, "labelColor": "#333", "labelOffset": 3}}
 }},
{"mark": {"type": "rect", "opacity": 0},
 "encoding": {"x": {"field": "p", "type": "nominal", "sort": null, "axis": {"orient": "top", "labels": false, "ticks": false, "domain": true, "domainColor": "#7ec8ea", "domainWidth": 1.5, "offset": 6, "title": "EBV-negative", "titleFontSize": 13, "titleFontWeight": "normal", "titleColor": "#222", "titlePadding": 4}}}}
],
"resolve": {"axis": {"x": "independent"}}
}
],
"spacing": 3,
"bounds": "flush"
},
{
"width": 685, "height": 413,
"title": {"text": "(B)", "anchor": "start", "font": "Liberation Serif", "fontSize": 15, "fontWeight": "normal", "color": "#222", "offset": -41, "dx": 4},
"encoding": {
 "x": {"field": "x", "type": "quantitative", "scale": {"domain": [-237, 298.16], "nice": false, "zero": false}, "axis": null},
 "y": {"field": "y", "type": "quantitative", "scale": {"domain": [-168.86, 153.8], "nice": false, "zero": false}, "axis": null}
},
"layer": [
{"data": {"name": "gridB"},
 "transform": [{"calculate": "datum.i*2*PI/17", "as": "a"}, {"calculate": "datum.r*sin(datum.a)", "as": "x"}, {"calculate": "datum.r*cos(datum.a)", "as": "y"}],
 "mark": {"type": "line", "interpolate": "linear-closed", "color": "#c8c8c8", "strokeWidth": 1},
 "encoding": {"detail": {"field": "r"}, "order": {"field": "i"}}},
{"data": {"name": "gridB"},
 "transform": [{"filter": "datum.r == 100"}, {"calculate": "datum.i*2*PI/17", "as": "a"}, {"calculate": "datum.r*sin(datum.a)", "as": "x"}, {"calculate": "datum.r*cos(datum.a)", "as": "y"}],
 "mark": {"type": "rule", "color": "#c8c8c8", "strokeWidth": 1},
 "encoding": {"x2": {"datum": 0}, "y2": {"datum": 0}}},
{"data": {"name": "radarB"},
 "transform": [{"calculate": "datum.i*2*PI/17", "as": "a"}, {"calculate": "datum.v*sin(datum.a)", "as": "x"}, {"calculate": "datum.v*cos(datum.a)", "as": "y"}],
 "mark": {"type": "line", "interpolate": "linear-closed", "color": "#1ba5b3", "strokeWidth": 2.5},
 "encoding": {"order": {"field": "i"}}},
{"data": {"name": "radarB"},
 "transform": [{"calculate": "datum.i*2*PI/17", "as": "a"}, {"calculate": "datum.v*sin(datum.a)", "as": "x"}, {"calculate": "datum.v*cos(datum.a)", "as": "y"}],
 "mark": {"type": "point", "filled": true, "opacity": 1, "size": 70, "color": "#1ba5b3"}},
{"data": {"name": "rings"},
 "transform": [{"calculate": "0", "as": "x"}, {"calculate": "datum.r", "as": "y"}],
 "mark": {"type": "text", "font": "DejaVu Sans", "fontSize": 16, "color": "#222", "dy": -2},
 "encoding": {"text": {"field": "r"}}},
{"data": {"name": "radarB"},
 "transform": [{"calculate": "datum.i*2*PI/17", "as": "a"}, {"filter": "sin(datum.a) > 0.05 && indexof(datum.lab, '\\n') < 0"}, {"calculate": "109*sin(datum.a)", "as": "x"}, {"calculate": "109*cos(datum.a)", "as": "y"}],
 "mark": {"type": "text", "font": "DejaVu Sans", "fontSize": 15, "color": "#222", "align": "left", "baseline": "middle"},
 "encoding": {"text": {"field": "lab"}}},
{"data": {"name": "radarB"},
 "transform": [{"calculate": "datum.i*2*PI/17", "as": "a"}, {"filter": "sin(datum.a) < -0.05 && indexof(datum.lab, '\\n') < 0"}, {"calculate": "109*sin(datum.a)", "as": "x"}, {"calculate": "109*cos(datum.a)", "as": "y"}],
 "mark": {"type": "text", "font": "DejaVu Sans", "fontSize": 15, "color": "#222", "align": "right", "baseline": "middle"},
 "encoding": {"text": {"field": "lab"}}},
{"data": {"name": "radarB"},
 "transform": [{"calculate": "datum.i*2*PI/17", "as": "a"}, {"filter": "indexof(datum.lab, '\\n') >= 0"}, {"calculate": "max(indexof(datum.lab, '\\n'), length(datum.lab) - indexof(datum.lab, '\\n') - 1)", "as": "w"}, {"calculate": "109*sin(datum.a) + (sin(datum.a) > 0 ? 1 : -1)*datum.w*2.5", "as": "x"}, {"calculate": "109*cos(datum.a)", "as": "y"}],
 "mark": {"type": "text", "font": "DejaVu Sans", "fontSize": 15, "color": "#222", "align": "center", "baseline": "middle", "lineBreak": "\n", "lineHeight": 18, "dy": -9},
 "encoding": {"text": {"field": "lab"}}},
{"data": {"name": "radarB"},
 "transform": [{"calculate": "datum.i*2*PI/17", "as": "a"}, {"filter": "abs(sin(datum.a)) <= 0.05 && cos(datum.a) > 0"}, {"calculate": "0", "as": "x"}, {"calculate": "112", "as": "y"}],
 "mark": {"type": "text", "font": "DejaVu Sans", "fontSize": 15, "color": "#222", "align": "center", "baseline": "bottom"},
 "encoding": {"text": {"field": "lab"}}}
]
},
{
"width": 685, "height": 293,
"title": {"text": "(C)", "anchor": "start", "font": "Liberation Serif", "fontSize": 15, "fontWeight": "normal", "color": "#222", "offset": -60, "dx": 4},
"encoding": {
 "x": {"field": "x", "type": "quantitative", "scale": {"domain": [-237, 298.16], "nice": false, "zero": false}, "axis": null},
 "y": {"field": "y", "type": "quantitative", "scale": {"domain": [-110.9, 118], "nice": false, "zero": false}, "axis": null}
},
"layer": [
{"data": {"name": "gridC"},
 "transform": [{"calculate": "datum.i*2*PI/10", "as": "a"}, {"calculate": "datum.r*sin(datum.a)", "as": "x"}, {"calculate": "datum.r*cos(datum.a)", "as": "y"}],
 "mark": {"type": "line", "interpolate": "linear-closed", "color": "#c8c8c8", "strokeWidth": 1},
 "encoding": {"detail": {"field": "r"}, "order": {"field": "i"}}},
{"data": {"name": "gridC"},
 "transform": [{"filter": "datum.r == 100"}, {"calculate": "datum.i*2*PI/10", "as": "a"}, {"calculate": "datum.r*sin(datum.a)", "as": "x"}, {"calculate": "datum.r*cos(datum.a)", "as": "y"}],
 "mark": {"type": "rule", "color": "#c8c8c8", "strokeWidth": 1},
 "encoding": {"x2": {"datum": 0}, "y2": {"datum": 0}}},
{"data": {"name": "radarC"},
 "transform": [{"calculate": "datum.i*2*PI/10", "as": "a"}, {"calculate": "datum.v*sin(datum.a)", "as": "x"}, {"calculate": "datum.v*cos(datum.a)", "as": "y"}],
 "mark": {"type": "line", "interpolate": "linear-closed", "color": "#1ba5b3", "strokeWidth": 2.5},
 "encoding": {"order": {"field": "i"}}},
{"data": {"name": "radarC"},
 "transform": [{"calculate": "datum.i*2*PI/10", "as": "a"}, {"calculate": "datum.v*sin(datum.a)", "as": "x"}, {"calculate": "datum.v*cos(datum.a)", "as": "y"}],
 "mark": {"type": "point", "filled": true, "opacity": 1, "size": 70, "color": "#1ba5b3"}},
{"data": {"name": "rings"},
 "transform": [{"calculate": "0", "as": "x"}, {"calculate": "datum.r", "as": "y"}],
 "mark": {"type": "text", "font": "DejaVu Sans", "fontSize": 16, "color": "#222", "dy": -2},
 "encoding": {"text": {"field": "r"}}},
{"data": {"name": "radarC"},
 "transform": [{"calculate": "datum.i*2*PI/10", "as": "a"}, {"filter": "sin(datum.a) > 0.05 && indexof(datum.lab, '\\n') < 0"}, {"calculate": "109*sin(datum.a)", "as": "x"}, {"calculate": "109*cos(datum.a)", "as": "y"}],
 "mark": {"type": "text", "font": "DejaVu Sans", "fontSize": 15, "color": "#222", "align": "left", "baseline": "middle"},
 "encoding": {"text": {"field": "lab"}}},
{"data": {"name": "radarC"},
 "transform": [{"calculate": "datum.i*2*PI/10", "as": "a"}, {"filter": "sin(datum.a) < -0.05 && indexof(datum.lab, '\\n') < 0"}, {"calculate": "109*sin(datum.a)", "as": "x"}, {"calculate": "109*cos(datum.a)", "as": "y"}],
 "mark": {"type": "text", "font": "DejaVu Sans", "fontSize": 15, "color": "#222", "align": "right", "baseline": "middle"},
 "encoding": {"text": {"field": "lab"}}},
{"data": {"name": "radarC"},
 "transform": [{"calculate": "datum.i*2*PI/10", "as": "a"}, {"filter": "indexof(datum.lab, '\\n') >= 0"}, {"calculate": "max(indexof(datum.lab, '\\n'), length(datum.lab) - indexof(datum.lab, '\\n') - 1)", "as": "w"}, {"calculate": "109*sin(datum.a) + (sin(datum.a) > 0 ? 1 : -1)*datum.w*2.5", "as": "x"}, {"calculate": "109*cos(datum.a)", "as": "y"}],
 "mark": {"type": "text", "font": "DejaVu Sans", "fontSize": 15, "color": "#222", "align": "center", "baseline": "middle", "lineBreak": "\n", "lineHeight": 18, "dy": -9},
 "encoding": {"text": {"field": "lab"}}},
{"data": {"name": "radarC"},
 "transform": [{"calculate": "datum.i*2*PI/10", "as": "a"}, {"filter": "abs(sin(datum.a)) <= 0.05 && cos(datum.a) > 0"}, {"calculate": "0", "as": "x"}, {"calculate": "112", "as": "y"}],
 "mark": {"type": "text", "font": "DejaVu Sans", "fontSize": 15, "color": "#222", "align": "center", "baseline": "bottom"},
 "encoding": {"text": {"field": "lab"}}},
{"data": {"name": "radarC"},
 "transform": [{"calculate": "datum.i*2*PI/10", "as": "a"}, {"filter": "abs(sin(datum.a)) <= 0.05 && cos(datum.a) < 0"}, {"calculate": "0", "as": "x"}, {"calculate": "-102", "as": "y"}],
 "mark": {"type": "text", "font": "DejaVu Sans", "fontSize": 15, "color": "#222", "align": "center", "baseline": "middle"},
 "encoding": {"text": {"field": "lab"}}}
]
}
]
}
